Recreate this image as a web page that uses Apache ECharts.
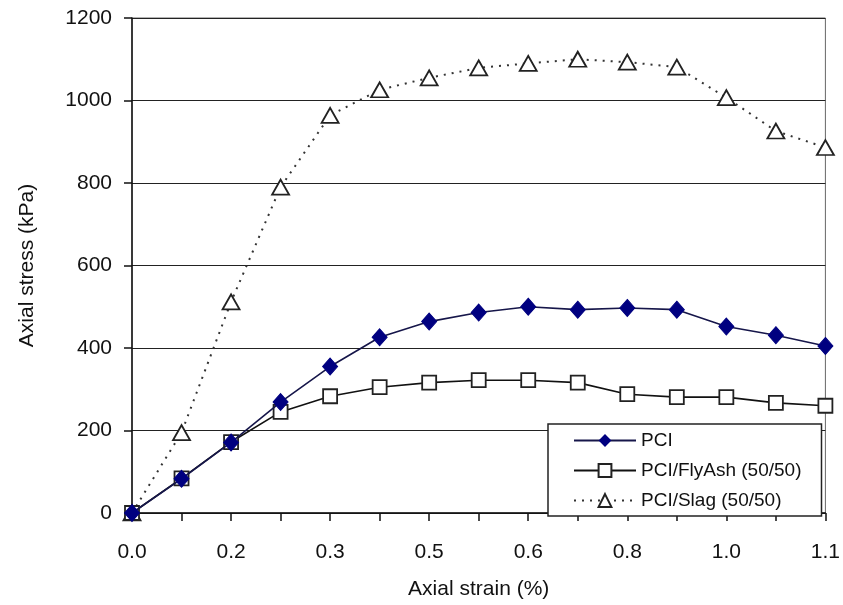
<!DOCTYPE html>
<html style="height: 100%">
<head>
    <meta charset="utf-8">
    <script type="text/javascript" src="https://cdn.jsdelivr.net/npm/echarts@6/dist/echarts.min.js"></script>
</head>
<body style="height: 100%; margin: 0; background: #fff">
<div id="container" style="width: 843px; height: 605px"></div>
<script type="text/javascript">
    // strain categories (only every other one is labelled, like the original)
    var strainLabels = ['0.0', '0.1', '0.2', '0.2', '0.3', '0.4', '0.5', '0.5', '0.6', '0.7', '0.8', '0.9', '1.0', '1.0', '1.1'];
    var pci = [0, 83, 171, 269, 355, 426, 464, 486, 500, 493, 497, 493, 452, 431, 405];
    var pciFlyAsh = [0, 84, 172, 245, 283, 305, 316, 322, 322, 316, 288, 281, 281, 267, 260];
    var pciSlag = [0, 195, 512, 790, 964, 1026, 1055, 1079, 1090, 1100, 1093, 1081, 1007, 926, 886];
    var yTicks = [0, 1200, 200];

    var dom = document.getElementById("container");
    var myChart = echarts.init(dom);
    var font = 'Liberation Sans, Arial, sans-serif';
    var option = {
        animation: false,
        backgroundColor: '#fff',
        grid: {
            left: 132, right: 17, top: 18, bottom: 83,
            show: true, borderColor: '#666', borderWidth: 1
        },
        legend: {
            orient: 'vertical',
            left: 548, top: 424,
            padding: [7, 20, 6, 25],
            itemGap: 11,
            itemWidth: 62,
            itemHeight: 16,
            borderColor: '#222',
            borderWidth: 1.5,
            backgroundColor: '#fff',
            textStyle: {fontFamily: font, fontSize: 19, color: '#111'},
            data: ['PCI', 'PCI/FlyAsh (50/50)', 'PCI/Slag (50/50)']
        },
        xAxis: {
            type: 'category',
            data: strainLabels,
            boundaryGap: false,
            name: 'Axial strain (%)',
            nameLocation: 'middle',
            nameGap: 66,
            nameTextStyle: {fontFamily: font, fontSize: 21, color: '#111'},
            axisLine: {lineStyle: {color: '#111', width: 1.5}},
            axisTick: {show: true, interval: 0, length: 8, lineStyle: {color: '#111', width: 1.5}},
            axisLabel: {interval: 1, fontFamily: font, fontSize: 21, color: '#111', margin: 29},
            splitLine: {show: false}
        },
        yAxis: {
            type: 'value',
            min: yTicks[0], max: yTicks[1], interval: yTicks[2],
            name: 'Axial stress (kPa)',
            nameLocation: 'middle',
            nameGap: 94,
            nameTextStyle: {fontFamily: font, fontSize: 21, color: '#111'},
            axisLine: {show: true, lineStyle: {color: '#111', width: 1.5}},
            axisTick: {show: true, length: 8, lineStyle: {color: '#111', width: 1.5}},
            axisLabel: {fontFamily: font, fontSize: 21, color: '#111', margin: 20,
                formatter: function (v) { return String(v); }},
            splitLine: {show: true, lineStyle: {color: '#222', width: 1.2}}
        },
        series: [
            {
                name: 'PCI',
                type: 'line',
                data: pci,
                symbol: 'diamond',
                symbolSize: [15, 17],
                lineStyle: {color: '#16164a', width: 1.6},
                itemStyle: {color: '#000080', borderColor: '#000080'},
                z: 4
            },
            {
                name: 'PCI/FlyAsh (50/50)',
                type: 'line',
                data: pciFlyAsh,
                symbol: 'rect',
                symbolSize: 14,
                lineStyle: {color: '#111', width: 1.6},
                itemStyle: {color: '#fff', borderColor: '#222', borderWidth: 1.8},
                z: 3
            },
            {
                name: 'PCI/Slag (50/50)',
                type: 'line',
                data: pciSlag,
                symbol: 'triangle',
                symbolSize: [17, 15],
                lineStyle: {color: '#333', width: 2, type: [2, 6]},
                itemStyle: {color: '#fff', borderColor: '#222', borderWidth: 1.8},
                z: 2
            }
        ]
    };
    myChart.setOption(option, true);
</script>
</body>
</html>
